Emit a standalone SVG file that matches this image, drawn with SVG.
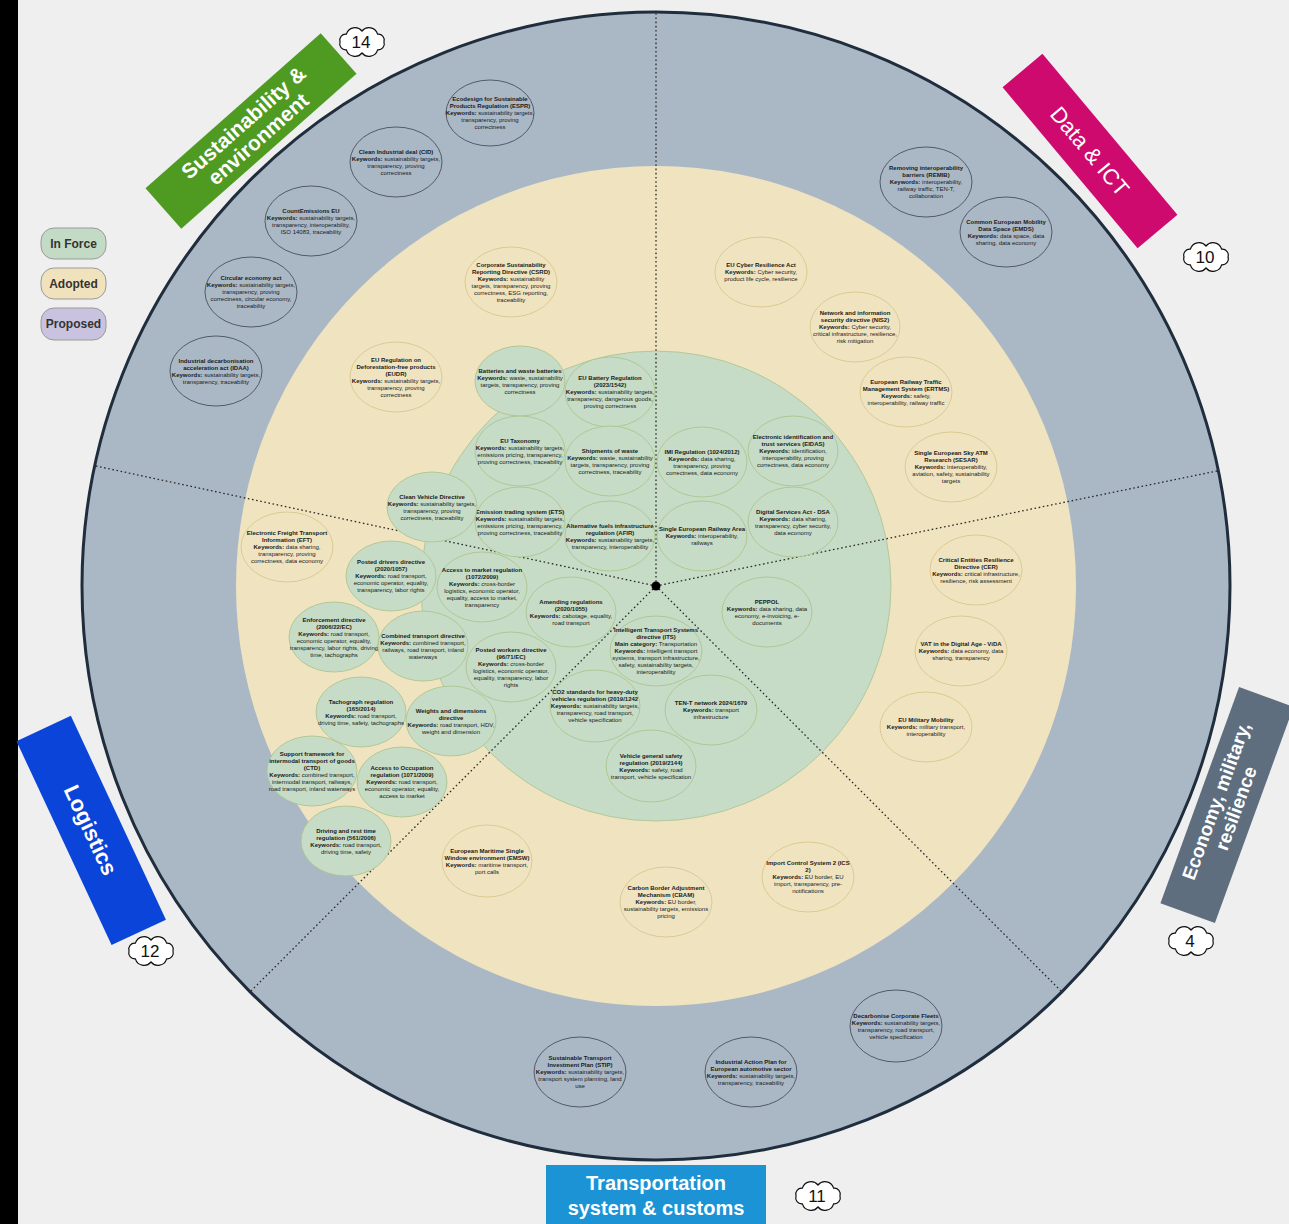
<svg xmlns="http://www.w3.org/2000/svg" width="1289" height="1224" viewBox="0 0 1289 1224">
<style>
text{font-family:"Liberation Sans",Arial,sans-serif}
.nt{font-size:6px;fill:#1a1a1a;text-anchor:middle}
.b{font-weight:bold}
.gray ellipse{fill:#aab8c6;stroke:#3a4350;stroke-width:0.8}
.yel ellipse{fill:#f0e4c0;stroke:#d8c68c;stroke-width:0.9}
.grn ellipse{fill:#c6dcc7;stroke:#adc48f;stroke-width:0.9}
.lbl{fill:#fff;font-weight:bold;text-anchor:middle}
.num{font-size:17px;fill:#111;text-anchor:middle}
.cloud{fill:#fff;stroke:#111;stroke-width:1.2}
.leg rect{stroke:#9a9a9a;stroke-width:1}
.leg text{font-size:12px;font-weight:bold;fill:#333;text-anchor:middle}
#connectors line{stroke:#2a2a2a;stroke-width:1.3;stroke-dasharray:1.6 2.6}
</style>
<defs>
<path id="cloud" d="M-22,0 A6,6 0 0 1 -15.6,-7.8 A9,9 0 0 1 0,-11 A9,9 0 0 1 15.6,-7.8 A6,6 0 0 1 22,0 A6,6 0 0 1 15.6,7.8 A9,9 0 0 1 0,11 A9,9 0 0 1 -15.6,7.8 A6,6 0 0 1 -22,0 Z"/>
</defs>
<rect width="1289" height="1224" fill="#efefef"/>
<rect x="0" y="0" width="18" height="1224" fill="#000"/>
<circle cx="656" cy="586" r="574" fill="#aab8c6" stroke="#1f2d3d" stroke-width="3"/>
<circle cx="656" cy="586" r="420" fill="#f0e4c0"/>
<circle cx="656" cy="586" r="235" fill="#c6dcc7" stroke="#b3c89a" stroke-width="1"/>
<g id="connectors">
<line x1="656" y1="586" x2="656" y2="13"/>
<line x1="656" y1="586" x2="96" y2="466"/>
<line x1="656" y1="586" x2="1217" y2="471"/>
<line x1="656" y1="586" x2="1061" y2="991"/>
<line x1="656" y1="586" x2="251" y2="991"/>
</g>
<circle cx="656" cy="586" r="4.5" fill="#000"/>

<g id="n-espr" class="gray"><ellipse cx="490" cy="113" rx="44" ry="33"/><text class="nt" y="101.1"><tspan x="490" class="b">Ecodesign for Sustainable</tspan><tspan x="490" dy="7" class="b">Products Regulation (ESPR)</tspan><tspan x="490" dy="7"><tspan class="b">Keywords:</tspan> sustainability targets,</tspan><tspan x="490" dy="7">transparency, proving</tspan><tspan x="490" dy="7">correctness</tspan></text></g>
<g id="n-cid" class="gray"><ellipse cx="396" cy="162" rx="46" ry="35"/><text class="nt" y="153.6"><tspan x="396" class="b">Clean Industrial deal (CID)</tspan><tspan x="396" dy="7"><tspan class="b">Keywords:</tspan> sustainability targets,</tspan><tspan x="396" dy="7">transparency, proving</tspan><tspan x="396" dy="7">correctness</tspan></text></g>
<g id="n-countemissions" class="gray"><ellipse cx="311" cy="221" rx="46" ry="35"/><text class="nt" y="212.6"><tspan x="311" class="b">CountEmissions EU</tspan><tspan x="311" dy="7"><tspan class="b">Keywords:</tspan> sustainability targets,</tspan><tspan x="311" dy="7">transparency, interoperability,</tspan><tspan x="311" dy="7">ISO 14083, traceability</tspan></text></g>
<g id="n-circular" class="gray"><ellipse cx="251" cy="292" rx="46" ry="35"/><text class="nt" y="280.1"><tspan x="251" class="b">Circular economy act</tspan><tspan x="251" dy="7"><tspan class="b">Keywords:</tspan> sustainability targets,</tspan><tspan x="251" dy="7">transparency, proving</tspan><tspan x="251" dy="7">correctness, circular economy,</tspan><tspan x="251" dy="7">traceability</tspan></text></g>
<g id="n-idaa" class="gray"><ellipse cx="216" cy="371" rx="46" ry="35"/><text class="nt" y="362.6"><tspan x="216" class="b">Industrial decarbonisation</tspan><tspan x="216" dy="7" class="b">acceleration act (IDAA)</tspan><tspan x="216" dy="7"><tspan class="b">Keywords:</tspan> sustainability targets,</tspan><tspan x="216" dy="7">transparency, traceability</tspan></text></g>
<g id="n-remib" class="gray"><ellipse cx="926" cy="182" rx="46" ry="35"/><text class="nt" y="170.1"><tspan x="926" class="b">Removing interoperability</tspan><tspan x="926" dy="7" class="b">barriers (REMIB)</tspan><tspan x="926" dy="7"><tspan class="b">Keywords:</tspan> interoperability,</tspan><tspan x="926" dy="7">railway traffic, TEN-T,</tspan><tspan x="926" dy="7">collaboration</tspan></text></g>
<g id="n-emds" class="gray"><ellipse cx="1006" cy="232" rx="46" ry="35"/><text class="nt" y="223.6"><tspan x="1006" class="b">Common European Mobility</tspan><tspan x="1006" dy="7" class="b">Data Space (EMDS)</tspan><tspan x="1006" dy="7"><tspan class="b">Keywords:</tspan> data space, data</tspan><tspan x="1006" dy="7">sharing, data economy</tspan></text></g>
<g id="n-fleets" class="gray"><ellipse cx="896" cy="1026" rx="46" ry="36"/><text class="nt" y="1017.6"><tspan x="896" class="b">Decarbonise Corporate Fleets</tspan><tspan x="896" dy="7"><tspan class="b">Keywords:</tspan> sustainability targets,</tspan><tspan x="896" dy="7">transparency, road transport,</tspan><tspan x="896" dy="7">vehicle specification</tspan></text></g>
<g id="n-iap" class="gray"><ellipse cx="751" cy="1072" rx="46" ry="35"/><text class="nt" y="1063.6"><tspan x="751" class="b">Industrial Action Plan for</tspan><tspan x="751" dy="7" class="b">European automotive sector</tspan><tspan x="751" dy="7"><tspan class="b">Keywords:</tspan> sustainability targets,</tspan><tspan x="751" dy="7">transparency, traceability</tspan></text></g>
<g id="n-stip" class="gray"><ellipse cx="580" cy="1072" rx="46" ry="35"/><text class="nt" y="1060.1"><tspan x="580" class="b">Sustainable Transport</tspan><tspan x="580" dy="7" class="b">Investment Plan (STIP)</tspan><tspan x="580" dy="7"><tspan class="b">Keywords:</tspan> sustainability targets,</tspan><tspan x="580" dy="7">transport system planning, land</tspan><tspan x="580" dy="7">use</tspan></text></g>

<g id="n-csrd" class="yel"><ellipse cx="511" cy="282" rx="46" ry="35"/><text class="nt" y="266.6"><tspan x="511" class="b">Corporate Sustainability</tspan><tspan x="511" dy="7" class="b">Reporting Directive (CSRD)</tspan><tspan x="511" dy="7"><tspan class="b">Keywords:</tspan> sustainability</tspan><tspan x="511" dy="7">targets, transparency, proving</tspan><tspan x="511" dy="7">correctness, ESG reporting,</tspan><tspan x="511" dy="7">traceability</tspan></text></g>
<g id="n-eudr" class="yel"><ellipse cx="396" cy="377" rx="46" ry="35"/><text class="nt" y="361.6"><tspan x="396" class="b">EU Regulation on</tspan><tspan x="396" dy="7" class="b">Deforestation-free products</tspan><tspan x="396" dy="7" class="b">(EUDR)</tspan><tspan x="396" dy="7"><tspan class="b">Keywords:</tspan> sustainability targets,</tspan><tspan x="396" dy="7">transparency, proving</tspan><tspan x="396" dy="7">correctness</tspan></text></g>
<g id="n-cra" class="yel"><ellipse cx="761" cy="272" rx="46" ry="35"/><text class="nt" y="267.1"><tspan x="761" class="b">EU Cyber Resilience Act</tspan><tspan x="761" dy="7"><tspan class="b">Keywords:</tspan> Cyber security,</tspan><tspan x="761" dy="7">product life cycle, resilience</tspan></text></g>
<g id="n-nis2" class="yel"><ellipse cx="855" cy="327" rx="45" ry="35"/><text class="nt" y="315.1"><tspan x="855" class="b">Network and information</tspan><tspan x="855" dy="7" class="b">security directive (NIS2)</tspan><tspan x="855" dy="7"><tspan class="b">Keywords:</tspan> Cyber security,</tspan><tspan x="855" dy="7">critical infrastructure, resilience,</tspan><tspan x="855" dy="7">risk mitigation</tspan></text></g>
<g id="n-ertms" class="yel"><ellipse cx="906" cy="392" rx="46" ry="35"/><text class="nt" y="383.6"><tspan x="906" class="b">European Railway Traffic</tspan><tspan x="906" dy="7" class="b">Management System (ERTMS)</tspan><tspan x="906" dy="7"><tspan class="b">Keywords:</tspan> safety,</tspan><tspan x="906" dy="7">interoperability, railway traffic</tspan></text></g>
<g id="n-sesar" class="yel"><ellipse cx="951" cy="467" rx="46" ry="35"/><text class="nt" y="455.1"><tspan x="951" class="b">Single European Sky ATM</tspan><tspan x="951" dy="7" class="b">Research (SESAR)</tspan><tspan x="951" dy="7"><tspan class="b">Keywords:</tspan> interoperability,</tspan><tspan x="951" dy="7">aviation, safety, sustainability</tspan><tspan x="951" dy="7">targets</tspan></text></g>
<g id="n-cer" class="yel"><ellipse cx="976" cy="570" rx="46" ry="35"/><text class="nt" y="561.6"><tspan x="976" class="b">Critical Entities Resilience</tspan><tspan x="976" dy="7" class="b">Directive (CER)</tspan><tspan x="976" dy="7"><tspan class="b">Keywords:</tspan> critical infrastructure,</tspan><tspan x="976" dy="7">resilience, risk assessment</tspan></text></g>
<g id="n-vida" class="yel"><ellipse cx="961" cy="651" rx="46" ry="35"/><text class="nt" y="646.1"><tspan x="961" class="b">VAT in the Digital Age - ViDA</tspan><tspan x="961" dy="7"><tspan class="b">Keywords:</tspan> data economy, data</tspan><tspan x="961" dy="7">sharing, transparency</tspan></text></g>
<g id="n-military" class="yel"><ellipse cx="926" cy="727" rx="46" ry="35"/><text class="nt" y="722.1"><tspan x="926" class="b">EU Military Mobility</tspan><tspan x="926" dy="7"><tspan class="b">Keywords:</tspan> military transport,</tspan><tspan x="926" dy="7">interoperability</tspan></text></g>
<g id="n-eft" class="yel"><ellipse cx="287" cy="547" rx="46" ry="35"/><text class="nt" y="535.1"><tspan x="287" class="b">Electronic Freight Transport</tspan><tspan x="287" dy="7" class="b">Information (EFT)</tspan><tspan x="287" dy="7"><tspan class="b">Keywords:</tspan> data sharing,</tspan><tspan x="287" dy="7">transparency, proving</tspan><tspan x="287" dy="7">correctness, data economy</tspan></text></g>
<g id="n-emsw" class="yel"><ellipse cx="487" cy="861" rx="45" ry="36"/><text class="nt" y="852.6"><tspan x="487" class="b">European Maritime Single</tspan><tspan x="487" dy="7" class="b">Window environment (EMSW)</tspan><tspan x="487" dy="7"><tspan class="b">Keywords:</tspan> maritime transport,</tspan><tspan x="487" dy="7">port calls</tspan></text></g>
<g id="n-cbam" class="yel"><ellipse cx="666" cy="902" rx="46" ry="35"/><text class="nt" y="890.1"><tspan x="666" class="b">Carbon Border Adjustment</tspan><tspan x="666" dy="7" class="b">Mechanism (CBAM)</tspan><tspan x="666" dy="7"><tspan class="b">Keywords:</tspan> EU border,</tspan><tspan x="666" dy="7">sustainability targets, emissions</tspan><tspan x="666" dy="7">pricing</tspan></text></g>
<g id="n-ics2" class="yel"><ellipse cx="808" cy="877" rx="46" ry="35"/><text class="nt" y="865.1"><tspan x="808" class="b">Import Control System 2 (ICS</tspan><tspan x="808" dy="7" class="b">2)</tspan><tspan x="808" dy="7"><tspan class="b">Keywords:</tspan> EU border, EU</tspan><tspan x="808" dy="7">import, transparency, pre-</tspan><tspan x="808" dy="7">notifications</tspan></text></g>

<g id="n-batteries" class="grn"><ellipse cx="520" cy="381" rx="45" ry="35"/><text class="nt" y="372.6"><tspan x="520" class="b">Batteries and waste batteries</tspan><tspan x="520" dy="7"><tspan class="b">Keywords:</tspan> waste, sustainability</tspan><tspan x="520" dy="7">targets, transparency, proving</tspan><tspan x="520" dy="7">correctness</tspan></text></g>
<g id="n-batteryreg" class="grn"><ellipse cx="610" cy="392" rx="45" ry="35"/><text class="nt" y="380.1"><tspan x="610" class="b">EU Battery Regulation</tspan><tspan x="610" dy="7" class="b">(2023/1542)</tspan><tspan x="610" dy="7"><tspan class="b">Keywords:</tspan> sustainability targets,</tspan><tspan x="610" dy="7">transparency, dangerous goods,</tspan><tspan x="610" dy="7">proving correctness</tspan></text></g>
<g id="n-taxonomy" class="grn"><ellipse cx="520" cy="451" rx="45" ry="35"/><text class="nt" y="442.6"><tspan x="520" class="b">EU Taxonomy</tspan><tspan x="520" dy="7"><tspan class="b">Keywords:</tspan> sustainability targets,</tspan><tspan x="520" dy="7">emissions pricing, transparency,</tspan><tspan x="520" dy="7">proving correctness, traceability</tspan></text></g>
<g id="n-shipments" class="grn"><ellipse cx="610" cy="461" rx="45" ry="35"/><text class="nt" y="452.6"><tspan x="610" class="b">Shipments of waste</tspan><tspan x="610" dy="7"><tspan class="b">Keywords:</tspan> waste, sustainability</tspan><tspan x="610" dy="7">targets, transparency, proving</tspan><tspan x="610" dy="7">correctness, traceability</tspan></text></g>
<g id="n-imi" class="grn"><ellipse cx="702" cy="462" rx="45" ry="35"/><text class="nt" y="453.6"><tspan x="702" class="b">IMI Regulation (1024/2012)</tspan><tspan x="702" dy="7"><tspan class="b">Keywords:</tspan> data sharing,</tspan><tspan x="702" dy="7">transparency, proving</tspan><tspan x="702" dy="7">correctness, data economy</tspan></text></g>
<g id="n-eidas" class="grn"><ellipse cx="793" cy="451" rx="45" ry="35"/><text class="nt" y="439.1"><tspan x="793" class="b">Electronic identification and</tspan><tspan x="793" dy="7" class="b">trust services (EIDAS)</tspan><tspan x="793" dy="7"><tspan class="b">Keywords:</tspan> identification,</tspan><tspan x="793" dy="7">interoperability, proving</tspan><tspan x="793" dy="7">correctness, data economy</tspan></text></g>
<g id="n-ets" class="grn"><ellipse cx="520" cy="522" rx="45" ry="35"/><text class="nt" y="513.6"><tspan x="520" class="b">Emission trading system (ETS)</tspan><tspan x="520" dy="7"><tspan class="b">Keywords:</tspan> sustainability targets,</tspan><tspan x="520" dy="7">emissions pricing, transparency,</tspan><tspan x="520" dy="7">proving correctness, traceability</tspan></text></g>
<g id="n-afir" class="grn"><ellipse cx="610" cy="536" rx="45" ry="35"/><text class="nt" y="527.6"><tspan x="610" class="b">Alternative fuels infrastructure</tspan><tspan x="610" dy="7" class="b">regulation (AFIR)</tspan><tspan x="610" dy="7"><tspan class="b">Keywords:</tspan> sustainability targets,</tspan><tspan x="610" dy="7">transparency, interoperability</tspan></text></g>
<g id="n-sera" class="grn"><ellipse cx="702" cy="536" rx="45" ry="35"/><text class="nt" y="531.1"><tspan x="702" class="b">Single European Railway Area</tspan><tspan x="702" dy="7"><tspan class="b">Keywords:</tspan> interoperability,</tspan><tspan x="702" dy="7">railways</tspan></text></g>
<g id="n-dsa" class="grn"><ellipse cx="793" cy="522" rx="45" ry="35"/><text class="nt" y="513.6"><tspan x="793" class="b">Digital Services Act - DSA</tspan><tspan x="793" dy="7"><tspan class="b">Keywords:</tspan> data sharing,</tspan><tspan x="793" dy="7">transparency, cyber security,</tspan><tspan x="793" dy="7">data economy</tspan></text></g>
<g id="n-cleanvehicle" class="grn"><ellipse cx="432" cy="507" rx="45" ry="35"/><text class="nt" y="498.6"><tspan x="432" class="b">Clean Vehicle Directive</tspan><tspan x="432" dy="7"><tspan class="b">Keywords:</tspan> sustainability targets,</tspan><tspan x="432" dy="7">transparency, proving</tspan><tspan x="432" dy="7">correctness, traceability</tspan></text></g>
<g id="n-peppol" class="grn"><ellipse cx="767" cy="612" rx="45" ry="35"/><text class="nt" y="603.6"><tspan x="767" class="b">PEPPOL</tspan><tspan x="767" dy="7"><tspan class="b">Keywords:</tspan> data sharing, data</tspan><tspan x="767" dy="7">economy, e-invoicing, e-</tspan><tspan x="767" dy="7">documents</tspan></text></g>
<g id="n-posteddrivers" class="grn"><ellipse cx="391" cy="576" rx="45" ry="35"/><text class="nt" y="564.1"><tspan x="391" class="b">Posted drivers directive</tspan><tspan x="391" dy="7" class="b">(2020/1057)</tspan><tspan x="391" dy="7"><tspan class="b">Keywords:</tspan> road transport,</tspan><tspan x="391" dy="7">economic operator, equality,</tspan><tspan x="391" dy="7">transparency, labor rights</tspan></text></g>
<g id="n-market" class="grn"><ellipse cx="482" cy="587" rx="45" ry="35"/><text class="nt" y="571.6"><tspan x="482" class="b">Access to market regulation</tspan><tspan x="482" dy="7" class="b">(1072/2009)</tspan><tspan x="482" dy="7"><tspan class="b">Keywords:</tspan> cross-border</tspan><tspan x="482" dy="7">logistics, economic operator,</tspan><tspan x="482" dy="7">equality, access to market,</tspan><tspan x="482" dy="7">transparency</tspan></text></g>
<g id="n-amending" class="grn"><ellipse cx="571" cy="612" rx="45" ry="35"/><text class="nt" y="603.6"><tspan x="571" class="b">Amending regulations</tspan><tspan x="571" dy="7" class="b">(2020/1055)</tspan><tspan x="571" dy="7"><tspan class="b">Keywords:</tspan> cabotage, equality,</tspan><tspan x="571" dy="7">road transport</tspan></text></g>
<g id="n-enforcement" class="grn"><ellipse cx="334" cy="637" rx="45" ry="35"/><text class="nt" y="621.6"><tspan x="334" class="b">Enforcement directive</tspan><tspan x="334" dy="7" class="b">(2006/22/EC)</tspan><tspan x="334" dy="7"><tspan class="b">Keywords:</tspan> road transport,</tspan><tspan x="334" dy="7">economic operator, equality,</tspan><tspan x="334" dy="7">transparency, labor rights, driving</tspan><tspan x="334" dy="7">time, tachographs</tspan></text></g>
<g id="n-combined" class="grn"><ellipse cx="423" cy="646" rx="45" ry="35"/><text class="nt" y="637.6"><tspan x="423" class="b">Combined transport directive</tspan><tspan x="423" dy="7"><tspan class="b">Keywords:</tspan> combined transport,</tspan><tspan x="423" dy="7">railways, road transport, inland</tspan><tspan x="423" dy="7">waterways</tspan></text></g>
<g id="n-postedworkers" class="grn"><ellipse cx="511" cy="667" rx="45" ry="35"/><text class="nt" y="651.6"><tspan x="511" class="b">Posted workers directive</tspan><tspan x="511" dy="7" class="b">(96/71/EC)</tspan><tspan x="511" dy="7"><tspan class="b">Keywords:</tspan> cross-border</tspan><tspan x="511" dy="7">logistics, economic operator,</tspan><tspan x="511" dy="7">equality, transparency, labor</tspan><tspan x="511" dy="7">rights</tspan></text></g>
<g id="n-its" class="grn"><ellipse cx="656" cy="651" rx="46" ry="35"/><text class="nt" y="632.1"><tspan x="656" class="b">Intelligent Transport Systems</tspan><tspan x="656" dy="7" class="b">directive (ITS)</tspan><tspan x="656" dy="7"><tspan class="b">Main category:</tspan> Transportation</tspan><tspan x="656" dy="7"><tspan class="b">Keywords:</tspan> intelligent transport</tspan><tspan x="656" dy="7">systems, transport infrastructure,</tspan><tspan x="656" dy="7">safety, sustainability targets,</tspan><tspan x="656" dy="7">interoperability</tspan></text></g>
<g id="n-tachograph" class="grn"><ellipse cx="361" cy="712" rx="45" ry="35"/><text class="nt" y="703.6"><tspan x="361" class="b">Tachograph regulation</tspan><tspan x="361" dy="7" class="b">(165/2014)</tspan><tspan x="361" dy="7"><tspan class="b">Keywords:</tspan> road transport,</tspan><tspan x="361" dy="7">driving time, safety, tachographs</tspan></text></g>
<g id="n-weights" class="grn"><ellipse cx="451" cy="721" rx="45" ry="35"/><text class="nt" y="712.6"><tspan x="451" class="b">Weights and dimensions</tspan><tspan x="451" dy="7" class="b">directive</tspan><tspan x="451" dy="7"><tspan class="b">Keywords:</tspan> road transport, HDV,</tspan><tspan x="451" dy="7">weight and dimension</tspan></text></g>
<g id="n-co2" class="grn"><ellipse cx="595" cy="706" rx="45" ry="36"/><text class="nt" y="694.1"><tspan x="595" class="b">CO2 standards for heavy-duty</tspan><tspan x="595" dy="7" class="b">vehicles regulation (2019/1242</tspan><tspan x="595" dy="7"><tspan class="b">Keywords:</tspan> sustainability targets,</tspan><tspan x="595" dy="7">transparency, road transport,</tspan><tspan x="595" dy="7">vehicle specification</tspan></text></g>
<g id="n-tent" class="grn"><ellipse cx="711" cy="710" rx="46" ry="35"/><text class="nt" y="705.1"><tspan x="711" class="b">TEN-T network 2024/1679</tspan><tspan x="711" dy="7"><tspan class="b">Keywords:</tspan> transport</tspan><tspan x="711" dy="7">infrastructure</tspan></text></g>
<g id="n-vgs" class="grn"><ellipse cx="651" cy="766" rx="45" ry="36"/><text class="nt" y="757.6"><tspan x="651" class="b">Vehicle general safety</tspan><tspan x="651" dy="7" class="b">regulation (2019/2144)</tspan><tspan x="651" dy="7"><tspan class="b">Keywords:</tspan> safety, road</tspan><tspan x="651" dy="7">transport, vehicle specification</tspan></text></g>
<g id="n-ctd" class="grn"><ellipse cx="312" cy="771" rx="45" ry="35"/><text class="nt" y="755.6"><tspan x="312" class="b">Support framework for</tspan><tspan x="312" dy="7" class="b">intermodal transport of goods</tspan><tspan x="312" dy="7" class="b">(CTD)</tspan><tspan x="312" dy="7"><tspan class="b">Keywords:</tspan> combined transport,</tspan><tspan x="312" dy="7">intermodal transport, railways,</tspan><tspan x="312" dy="7">road transport, inland waterways</tspan></text></g>
<g id="n-occupation" class="grn"><ellipse cx="402" cy="782" rx="45" ry="35"/><text class="nt" y="770.1"><tspan x="402" class="b">Access to Occupation</tspan><tspan x="402" dy="7" class="b">regulation (1071/2009)</tspan><tspan x="402" dy="7"><tspan class="b">Keywords:</tspan> road transport,</tspan><tspan x="402" dy="7">economic operator, equality,</tspan><tspan x="402" dy="7">access to market</tspan></text></g>
<g id="n-drivingrest" class="grn"><ellipse cx="346" cy="841" rx="45" ry="35"/><text class="nt" y="832.6"><tspan x="346" class="b">Driving and rest time</tspan><tspan x="346" dy="7" class="b">regulation (561/2006)</tspan><tspan x="346" dy="7"><tspan class="b">Keywords:</tspan> road transport,</tspan><tspan x="346" dy="7">driving time, safety</tspan></text></g>

<g id="cat-sustainability" transform="translate(251,131) rotate(-41.5)"><rect x="-117" y="-27" width="234" height="54" fill="#4f9b22"/><text class="lbl" font-size="21" y="-4">Sustainability &amp;</text><text class="lbl" font-size="21" y="18">environment</text></g>
<g id="cat-data" transform="translate(1090,151) rotate(50)"><rect x="-105" y="-26" width="210" height="52" fill="#cf0a6e"/><text class="lbl" font-size="22" font-weight="normal" style="font-weight:normal" y="8">Data &amp; ICT</text></g>
<g id="cat-economy" transform="translate(1227,805) rotate(-70)"><rect x="-115" y="-29" width="230" height="58" fill="#5e6e7f"/><text class="lbl" font-size="19" y="-5">Economy, military,</text><text class="lbl" font-size="19" y="16">resilience</text></g>
<g id="cat-logistics" transform="translate(91,830) rotate(65)"><rect x="-112" y="-30" width="225" height="60" fill="#0b44d8"/><text class="lbl" font-size="22" y="8">Logistics</text></g>
<g id="cat-transport"><rect x="546" y="1165" width="220" height="70" fill="#1c93d4"/><text class="lbl" font-size="20" x="656" y="1190">Transportation</text><text class="lbl" font-size="20" x="656" y="1215">system &amp; customs</text></g>

<g id="count-14"><use href="#cloud" x="362" y="42" class="cloud"/><text class="num" x="361" y="48">14</text></g>
<g id="count-10"><use href="#cloud" x="1206" y="257" class="cloud"/><text class="num" x="1205" y="263">10</text></g>
<g id="count-4"><use href="#cloud" x="1191" y="941" class="cloud"/><text class="num" x="1190" y="947">4</text></g>
<g id="count-12"><use href="#cloud" x="151" y="951" class="cloud"/><text class="num" x="150" y="957">12</text></g>
<g id="count-11"><use href="#cloud" x="818" y="1196" class="cloud"/><text class="num" x="817" y="1202">11</text></g>

<g id="legend" class="leg">
<g id="leg-inforce"><rect x="41" y="228" width="65" height="31" rx="13" fill="#c3dbc4"/><text x="73.5" y="248">In Force</text></g>
<g id="leg-adopted"><rect x="41" y="268" width="65" height="31" rx="13" fill="#f0e2bc"/><text x="73.5" y="288">Adopted</text></g>
<g id="leg-proposed"><rect x="41" y="308" width="65" height="32" rx="13" fill="#c9c3df"/><text x="73.5" y="328">Proposed</text></g>
</g>
</svg>
